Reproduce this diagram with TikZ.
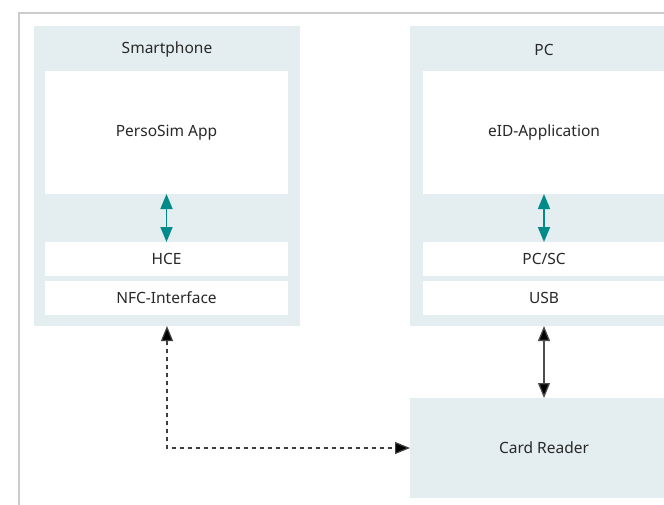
\documentclass[tikz,border=0pt]{standalone}
\usepackage{fontspec}
\setmainfont{Noto Sans}
\usetikzlibrary{arrows.meta}
\definecolor{boxfill}{RGB}{228,238,240}
\definecolor{tealarr}{RGB}{0,138,138}
\definecolor{framegray}{RGB}{204,204,204}
\definecolor{txt}{RGB}{40,40,40}
\begin{document}
\begin{tikzpicture}[x=1pt,y=-1pt,
  container/.style={fill=boxfill,draw=none,inner sep=0pt,outer sep=0pt},
  inner/.style={fill=white,draw=none,inner sep=0pt,outer sep=0pt,minimum width=243pt,text=txt,font=\fontsize{15.5}{18}\selectfont},
  title/.style={text=txt,font=\fontsize{15.5}{18}\selectfont,inner sep=0pt},
  tealtip/.style={draw=tealarr,line width=1.6pt,{Triangle[length=15pt,width=12pt]}-{Triangle[length=15pt,width=12pt]}},
  blacktip/.style={draw=black!70,line width=1.3pt,{Triangle[length=15pt,width=12pt,fill=black]}-{Triangle[length=15pt,width=12pt,fill=black]}},
  dashtip/.style={draw=black!75,line width=1.2pt,dash pattern=on 4pt off 4pt,{Triangle[length=15pt,width=12pt,fill=black]}-{Triangle[length=15pt,width=12pt,fill=black]}}
]
\useasboundingbox (0,0) rectangle (664,504);
\clip (0,0) rectangle (664,504);
% frame
\draw[framegray,line width=2pt] (19,520) -- (19,12.7) -- (680,12.7);

% Smartphone
\node[container,minimum width=266pt,minimum height=300pt] (phone) at (167,176) {};
\node[title] (phonetitle) at (167,49.5) {Smartphone};
\node[inner,minimum height=123pt] (app) at (166.5,132.5) {PersoSim App};
\node[inner,minimum height=34pt] (hce) at (166.5,259) {HCE};
\node[inner,minimum height=34pt] (nfc) at (166.5,298) {NFC-Interface};

% PC
\node[container,minimum width=268pt,minimum height=300pt] (pc) at (544,176) {};
\node[title] (pctitle) at (544,49.5) {PC};
\node[inner,minimum width=242pt,minimum height=123pt] (eid) at (544,132.5) {eID-Application};
\node[inner,minimum width=242pt,minimum height=34pt] (pcsc) at (544,259) {PC/SC};
\node[inner,minimum width=242pt,minimum height=34pt] (usb) at (544,298) {USB};

% Card reader
\node[container,minimum width=268pt,minimum height=100pt,text=txt,font=\fontsize{15.5}{18}\selectfont] (reader) at (544,448) {Card Reader};

% arrows
\draw[tealtip] (app.south) -- (hce.north);
\draw[tealtip] (eid.south) -- (pcsc.north);
\draw[blacktip] (pc.south) -- (reader.north);
\draw[dashtip] (phone.south) |- (reader.west);
\end{tikzpicture}
\end{document}
